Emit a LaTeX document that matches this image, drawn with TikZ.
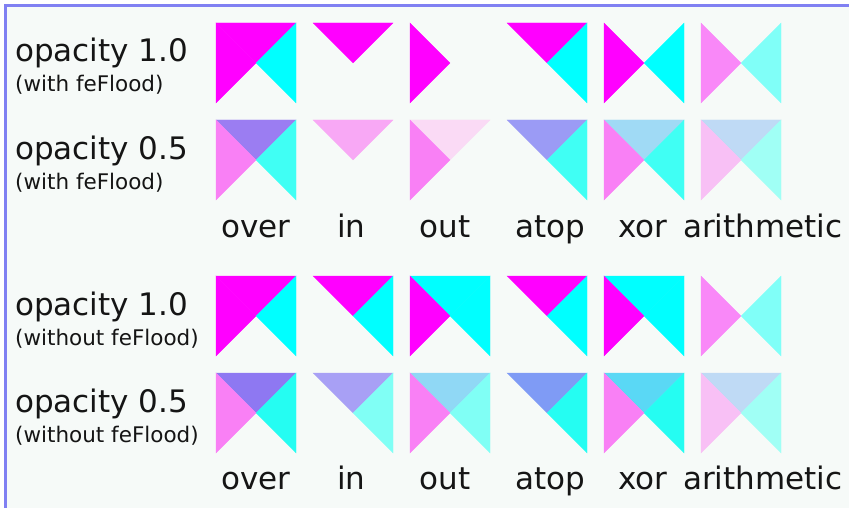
\documentclass[tikz,border=0pt]{standalone}
\usepackage{fontspec}
\setmainfont{DejaVu Sans}
\definecolor{bgc}{HTML}{F6FAF8}
\definecolor{bord}{HTML}{8080F2}
\definecolor{txt}{HTML}{151515}
\definecolor{mag}{HTML}{FF00FF}
\definecolor{cya}{HTML}{00FFFF}
\definecolor{pinkA}{HTML}{F988F8}
\definecolor{cyanA}{HTML}{80FFF8}
\definecolor{purp2}{HTML}{9B7DF2}
\definecolor{pink50}{HTML}{F980F5}
\definecolor{cyan2}{HTML}{40FFF4}
\definecolor{inpink}{HTML}{F8A8F5}
\definecolor{outtop}{HTML}{FADAF5}
\definecolor{atop2}{HTML}{9B9BF5}
\definecolor{xor2}{HTML}{A0DAF5}
\definecolor{ar2top}{HTML}{BFDAF5}
\definecolor{ar2l}{HTML}{F8C0F5}
\definecolor{ar2r}{HTML}{A0FFF5}
\definecolor{purp4}{HTML}{8E78F2}
\definecolor{cyan4}{HTML}{25FDF2}
\definecolor{in4top}{HTML}{A8A0F5}
\definecolor{lcyan}{HTML}{80FFF5}
\definecolor{out4top}{HTML}{90D8F5}
\definecolor{atop4}{HTML}{7F9BF5}
\definecolor{xor4}{HTML}{5AD8F5}
\newcommand\tcell[5]{%
  \path[fill=#3,draw=#3,line width=0.3pt] (#1,#2) -- ++(80,0) -- ++(-40,40) -- cycle;
  \path[fill=#4,draw=#4,line width=0.3pt] (#1,#2) -- ++(40,40) -- ++(-40,40) -- cycle;
  \path[fill=#5,draw=#5,line width=0.3pt] (#1,#2) ++(80,0) -- ++(0,80) -- ++(-40,-40) -- cycle;
}
\tikzset{
  big/.style={anchor=base west,inner sep=0pt,text=txt,font=\fontsize{31}{36}\selectfont},
  small/.style={anchor=base west,inner sep=0pt,text=txt,font=\fontsize{21.5}{25}\selectfont},
}
\begin{document}
\begin{tikzpicture}[x=1pt,y=-1pt]
\useasboundingbox (0,0) rectangle (849,508);
\clip (0,0) rectangle (849,508);
\fill[white] (0,0) rectangle (849,508);
\fill[bgc] (5.5,5.5) rectangle (900,560);
\draw[bord,line width=2.5pt] (5.5,5.5) rectangle (900,560);
% labels left
\node[big] (t1) at (15,62) {opacity 1.0};
\node[small] (s1) at (15,92) {(with feFlood)};
\node[big] (t2) at (15,159.5) {opacity 0.5};
\node[small] (s2) at (15,189.5) {(with feFlood)};
\node[big] (t3) at (15,315) {opacity 1.0};
\node[small] (s3) at (15,345) {(without feFlood)};
\node[big] (t4) at (15,412) {opacity 0.5};
\node[small] (s4) at (15,442) {(without feFlood)};
% operator labels
\foreach \yy/\nm in {237/u,489.5/l}{
  \node[big] (over\nm) at (221,\yy) {over};
  \node[big] (in\nm) at (337,\yy) {in};
  \node[big] (out\nm) at (419.5,\yy) {out};
  \node[big] (atop\nm) at (515,\yy) {atop};
  \node[big] (xor\nm) at (618,\yy) {xor};
  \node[big] (arith\nm) at (683,\yy) {arithmetic};
}
% row 1
\tcell{216}{23}{mag}{mag}{cya}
\tcell{313}{23}{mag}{none}{none}
\tcell{410}{23}{none}{mag}{none}
\tcell{507}{23}{mag}{none}{cya}
\tcell{604}{23}{none}{mag}{cya}
\tcell{701}{23}{none}{pinkA}{cyanA}
% row 2
\tcell{216}{120}{purp2}{pink50}{cyan2}
\tcell{313}{120}{inpink}{none}{none}
\tcell{410}{120}{outtop}{pink50}{none}
\tcell{507}{120}{atop2}{none}{cyan2}
\tcell{604}{120}{xor2}{pink50}{cyan2}
\tcell{701}{120}{ar2top}{ar2l}{ar2r}
% row 3
\tcell{216}{276}{mag}{mag}{cya}
\tcell{313}{276}{mag}{none}{cya}
\tcell{410}{276}{cya}{mag}{cya}
\tcell{507}{276}{mag}{none}{cya}
\tcell{604}{276}{cya}{mag}{cya}
\tcell{701}{276}{none}{pinkA}{cyanA}
% row 4
\tcell{216}{373}{purp4}{pink50}{cyan4}
\tcell{313}{373}{in4top}{none}{lcyan}
\tcell{410}{373}{out4top}{pink50}{lcyan}
\tcell{507}{373}{atop4}{none}{cyan4}
\tcell{604}{373}{xor4}{pink50}{cyan4}
\tcell{701}{373}{ar2top}{ar2l}{ar2r}
\end{tikzpicture}
\end{document}
